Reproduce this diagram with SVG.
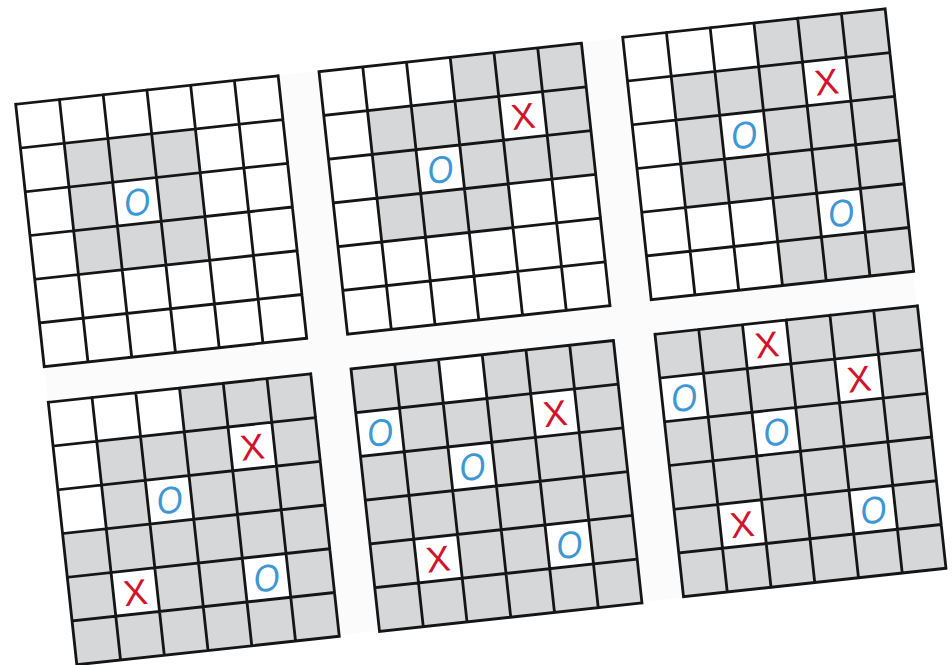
<svg xmlns="http://www.w3.org/2000/svg" xmlns:xlink="http://www.w3.org/1999/xlink" width="952" height="665" viewBox="0 0 952 665">
<style>
  .g{fill:#d6d7d9}
  .w{fill:#ffffff}
  .ln{fill:none;stroke:#151515;stroke-width:2.8;stroke-linecap:square}
  .o{font-family:"Liberation Sans",Arial,sans-serif;font-size:38px;font-style:italic;fill:#3d97d3;text-anchor:middle}
  .x{font-family:"Liberation Sans",Arial,sans-serif;font-size:36px;fill:#d2132c;text-anchor:middle}
</style>
<defs>
  <path id="lines" class="ln" d="M0,0H264M0,44H264M0,88H264M0,132H264M0,176H264M0,220H264M0,264H264M0,0V264M44,0V264M88,0V264M132,0V264M176,0V264M220,0V264M264,0V264"/>
</defs>
<rect width="952" height="665" fill="#ffffff"/>
<polygon points="15.7,104.3 884.3,9 945,568.3 76.7,664" fill="#fbfbfb"/>

<g id="grid-1" transform="translate(15.7,104.3) rotate(-6.2)">
  <rect width="264" height="264" class="w"/>
  <rect class="g" x="44" y="44" width="44" height="44"/><rect class="g" x="88" y="44" width="44" height="44"/><rect class="g" x="132" y="44" width="44" height="44"/>
  <rect class="g" x="44" y="88" width="44" height="44"/><rect class="g" x="132" y="88" width="44" height="44"/>
  <rect class="g" x="44" y="132" width="44" height="44"/><rect class="g" x="88" y="132" width="44" height="44"/><rect class="g" x="132" y="132" width="44" height="44"/>
  <use xlink:href="#lines"/>
  <text class="o" transform="translate(110,123.5) scale(0.88,1)">O</text>
</g>

<g id="grid-2" transform="translate(319,71.7) rotate(-6.2)">
  <rect width="264" height="264" class="w"/>
  <rect class="g" x="132" y="0" width="44" height="44"/><rect class="g" x="176" y="0" width="44" height="44"/><rect class="g" x="220" y="0" width="44" height="44"/>
  <rect class="g" x="44" y="44" width="44" height="44"/><rect class="g" x="88" y="44" width="44" height="44"/><rect class="g" x="132" y="44" width="44" height="44"/><rect class="g" x="220" y="44" width="44" height="44"/>
  <rect class="g" x="44" y="88" width="44" height="44"/><rect class="g" x="132" y="88" width="44" height="44"/><rect class="g" x="176" y="88" width="44" height="44"/><rect class="g" x="220" y="88" width="44" height="44"/>
  <rect class="g" x="44" y="132" width="44" height="44"/><rect class="g" x="88" y="132" width="44" height="44"/><rect class="g" x="132" y="132" width="44" height="44"/>
  <use xlink:href="#lines"/>
  <text class="x" x="198" y="78.9">X</text>
  <text class="o" transform="translate(110,123.5) scale(0.88,1)">O</text>
</g>

<g id="grid-3" transform="translate(622.7,37.3) rotate(-6.2)">
  <rect width="264" height="264" class="w"/>
  <rect class="g" x="132" y="0" width="44" height="44"/><rect class="g" x="176" y="0" width="44" height="44"/><rect class="g" x="220" y="0" width="44" height="44"/>
  <rect class="g" x="44" y="44" width="44" height="44"/><rect class="g" x="88" y="44" width="44" height="44"/><rect class="g" x="132" y="44" width="44" height="44"/><rect class="g" x="220" y="44" width="44" height="44"/>
  <rect class="g" x="44" y="88" width="44" height="44"/><rect class="g" x="132" y="88" width="44" height="44"/><rect class="g" x="176" y="88" width="44" height="44"/><rect class="g" x="220" y="88" width="44" height="44"/>
  <rect class="g" x="44" y="132" width="220" height="44"/>
  <rect class="g" x="132" y="176" width="44" height="44"/><rect class="g" x="220" y="176" width="44" height="44"/>
  <rect class="g" x="132" y="220" width="132" height="44"/>
  <use xlink:href="#lines"/>
  <text class="x" x="198" y="78.9">X</text>
  <text class="o" transform="translate(110,123.5) scale(0.88,1)">O</text>
  <text class="o" transform="translate(198,211.5) scale(0.88,1)">O</text>
</g>

<g id="grid-4" transform="translate(48.3,402.3) rotate(-6.2)">
  <rect width="264" height="264" class="w"/>
  <rect class="g" x="132" y="0" width="44" height="44"/><rect class="g" x="176" y="0" width="44" height="44"/><rect class="g" x="220" y="0" width="44" height="44"/>
  <rect class="g" x="44" y="44" width="44" height="44"/><rect class="g" x="88" y="44" width="44" height="44"/><rect class="g" x="132" y="44" width="44" height="44"/><rect class="g" x="220" y="44" width="44" height="44"/>
  <rect class="g" x="44" y="88" width="44" height="44"/><rect class="g" x="132" y="88" width="44" height="44"/><rect class="g" x="176" y="88" width="44" height="44"/><rect class="g" x="220" y="88" width="44" height="44"/>
  <rect class="g" x="0" y="132" width="264" height="44"/>
  <rect class="g" x="0" y="176" width="44" height="44"/><rect class="g" x="88" y="176" width="88" height="44"/><rect class="g" x="220" y="176" width="44" height="44"/>
  <rect class="g" x="0" y="220" width="264" height="44"/>
  <use xlink:href="#lines"/>
  <text class="x" x="198" y="78.9">X</text>
  <text class="o" transform="translate(110,123.5) scale(0.88,1)">O</text>
  <text class="x" x="66" y="210.9">X</text>
  <text class="o" transform="translate(198,211.5) scale(0.88,1)">O</text>
</g>

<g id="grid-5" transform="translate(351,369) rotate(-6.2)">
  <rect width="264" height="264" class="g"/>
  <rect class="w" x="88" y="0" width="44" height="44"/>
  <rect class="w" x="0" y="44" width="44" height="44"/><rect class="w" x="176" y="44" width="44" height="44"/>
  <rect class="w" x="88" y="88" width="44" height="44"/>
  <rect class="w" x="44" y="176" width="44" height="44"/><rect class="w" x="176" y="176" width="44" height="44"/>
  <use xlink:href="#lines"/>
  <text class="o" transform="translate(22,79.5) scale(0.88,1)">O</text>
  <text class="x" x="198" y="78.9">X</text>
  <text class="o" transform="translate(110,123.5) scale(0.88,1)">O</text>
  <text class="x" x="66" y="210.9">X</text>
  <text class="o" transform="translate(198,211.5) scale(0.88,1)">O</text>
</g>

<g id="grid-6" transform="translate(655,334.3) rotate(-6.2)">
  <rect width="264" height="264" class="g"/>
  <rect class="w" x="88" y="0" width="44" height="44"/>
  <rect class="w" x="0" y="44" width="44" height="44"/><rect class="w" x="176" y="44" width="44" height="44"/>
  <rect class="w" x="88" y="88" width="44" height="44"/>
  <rect class="w" x="44" y="176" width="44" height="44"/><rect class="w" x="176" y="176" width="44" height="44"/>
  <use xlink:href="#lines"/>
  <text class="x" x="110" y="34.9">X</text>
  <text class="o" transform="translate(22,79.5) scale(0.88,1)">O</text>
  <text class="x" x="198" y="78.9">X</text>
  <text class="o" transform="translate(110,123.5) scale(0.88,1)">O</text>
  <text class="x" x="66" y="210.9">X</text>
  <text class="o" transform="translate(198,211.5) scale(0.88,1)">O</text>
</g>
</svg>
